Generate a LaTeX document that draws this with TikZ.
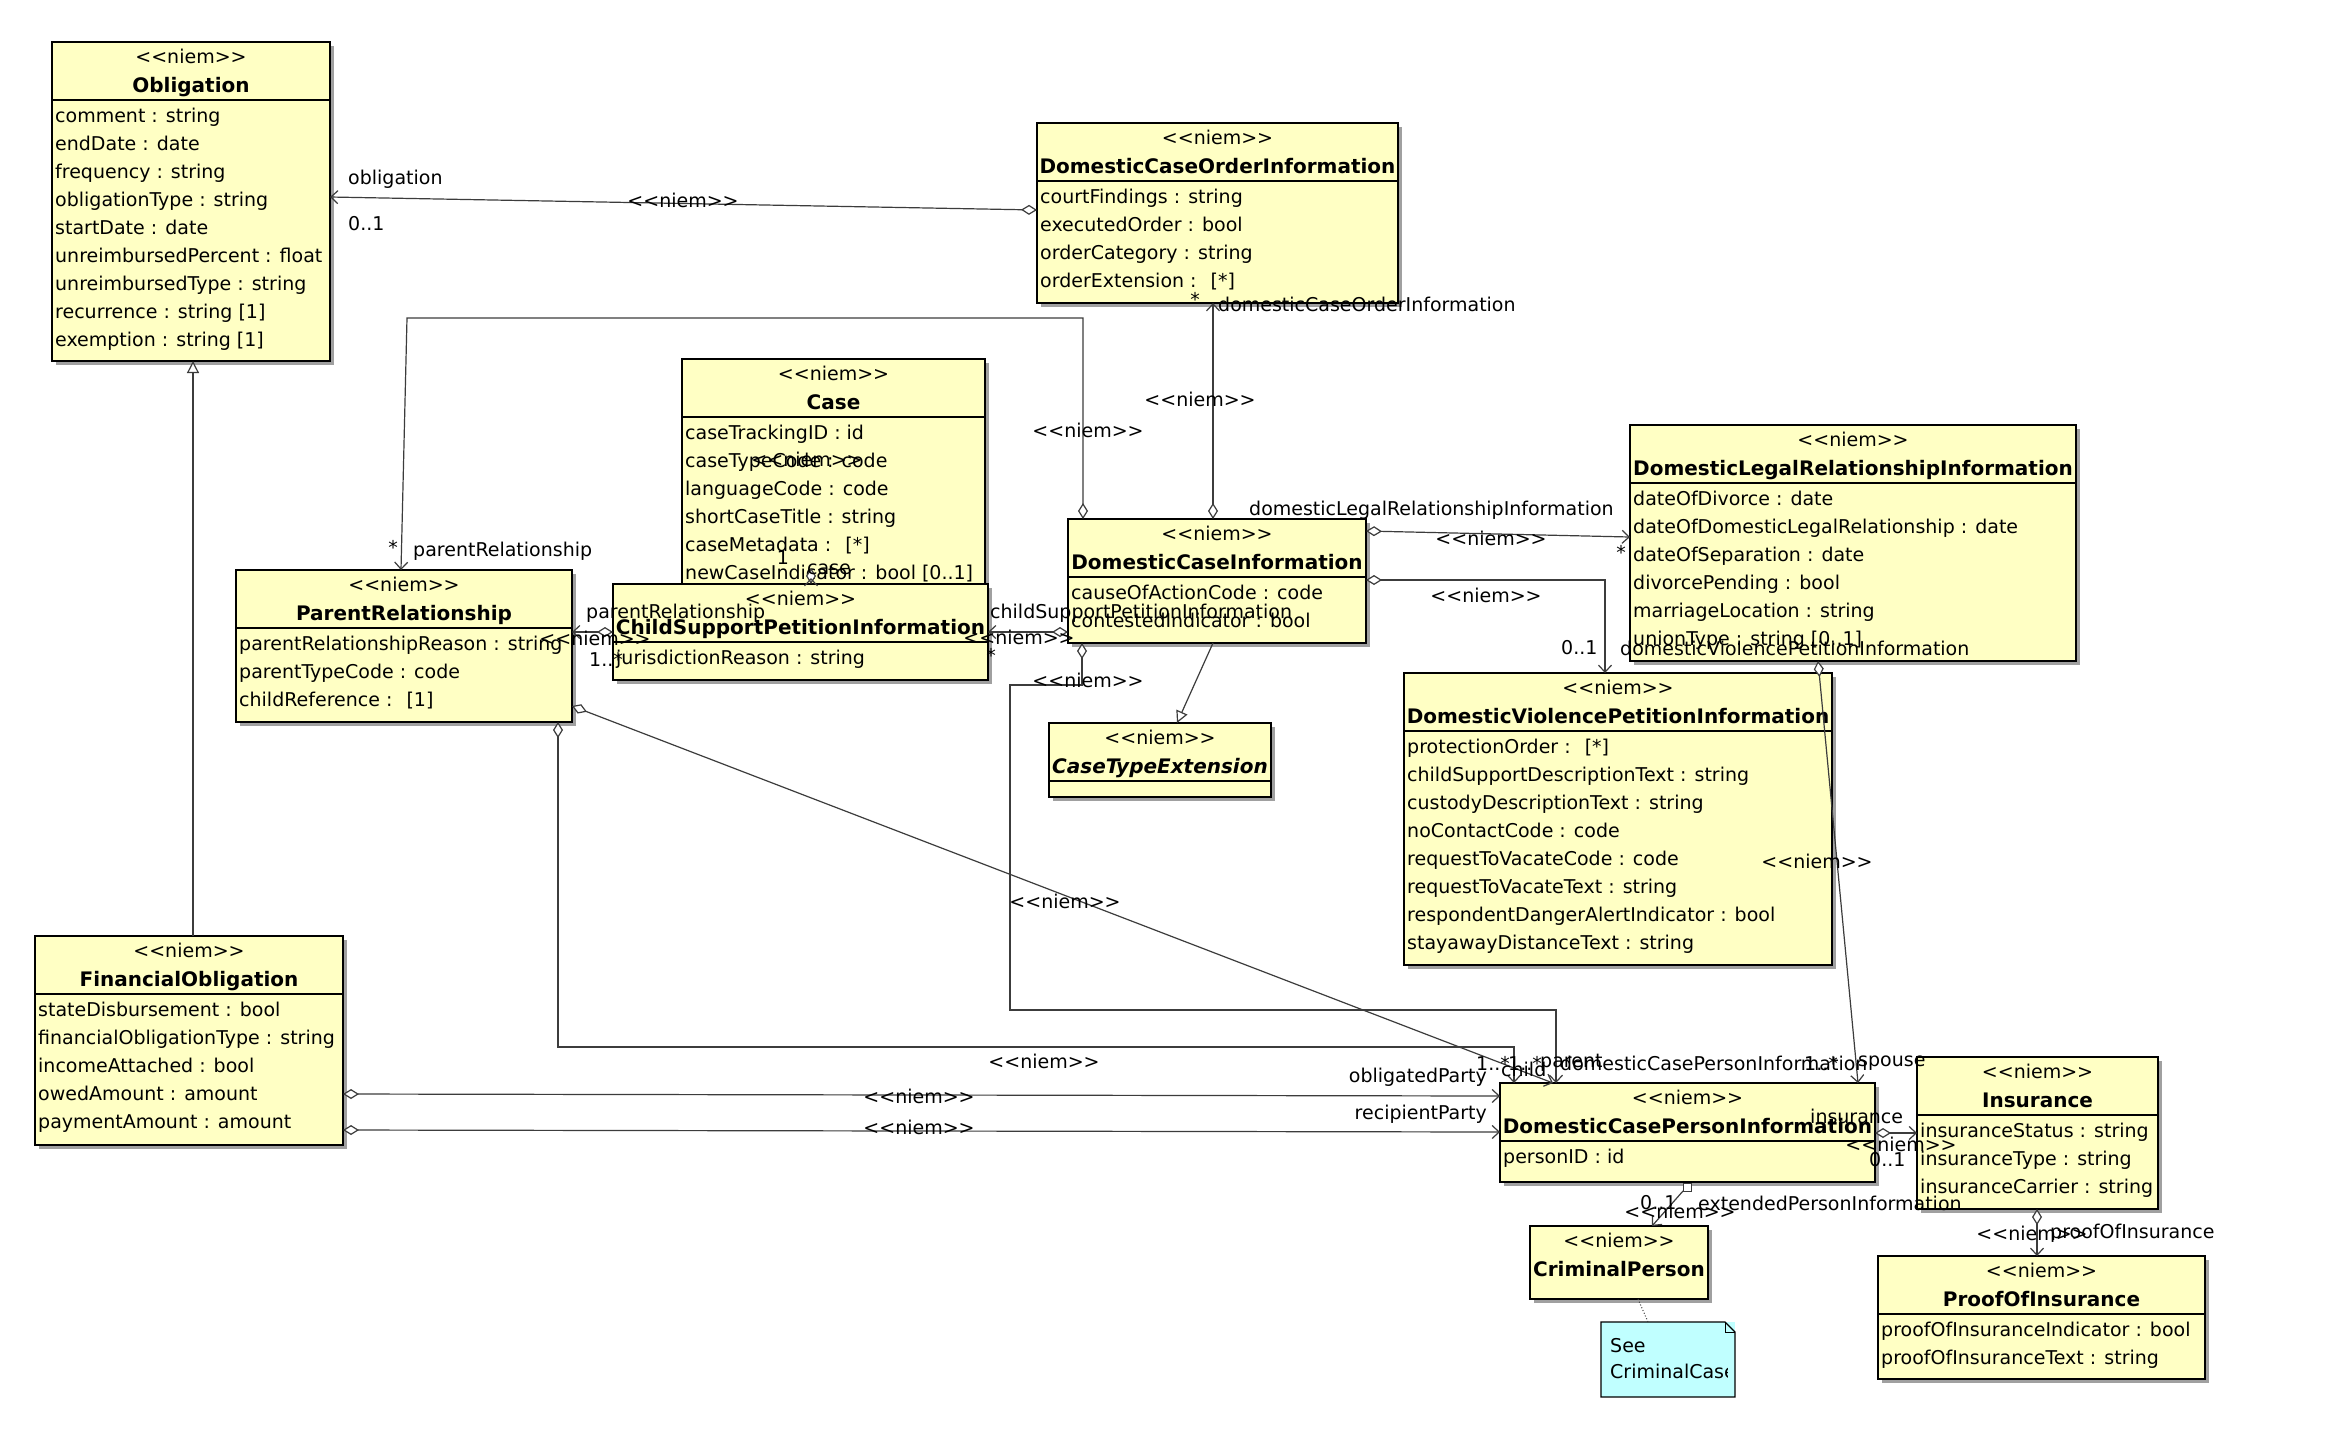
\documentclass[tikz,border=0pt]{standalone}
\usepackage{fontspec}
\newfontfamily\umlfont{DejaVu Sans}
\usetikzlibrary{arrows.meta,calc}
\definecolor{clsfill}{RGB}{255,255,196}
\definecolor{notefill}{RGB}{192,255,255}
\definecolor{shadowc}{RGB}{160,160,160}
\definecolor{linec}{RGB}{60,60,60}
\tikzset{
 clsbox/.style={draw=black,line width=1.4pt,fill=clsfill,inner sep=0pt,outer sep=0pt,anchor=north west},
 stereo/.style={font=\umlfont\fontsize{19}{23}\selectfont,inner sep=0pt,anchor=base},
 clsname/.style={font=\umlfont\bfseries\fontsize{20}{24}\selectfont,inner sep=0pt,anchor=base},
 attr/.style={font=\umlfont\fontsize{19}{23}\selectfont,inner sep=0pt,anchor=base west},
 lbl/.style={font=\umlfont\fontsize{19}{23}\selectfont,inner sep=0pt},
 divline/.style={line width=1.2pt},
 assoc/.style={draw=linec,line width=1.2pt},
 dstart/.style={arrows={Diamond[open,fill=white,length=16pt,width=10pt]-Straight Barb[length=7pt,width=13pt]}},
 barb/.style={arrows={-Straight Barb[length=7pt,width=13pt]}},
 gen/.style={arrows={-Triangle[open,fill=white,length=12pt,width=12pt]}},
}
\newcommand\umlclass[6]{%
  \fill[shadowc] (#2+4,#3+4) rectangle (#4+4,#5+4);
  \node[clsbox,minimum width={#4-#2},minimum height={#5-#3}] (#1) at (#2,#3) {};
  \node[stereo] (#1-st) at ({(#2+#4)/2},#3+21.5) {<<niem>>};
  \node[clsname] (#1-nm) at ({(#2+#4)/2},#3+50.5) {#6};
  \draw[divline] (#2,#3+58) -- (#4,#3+58);
}
\newcommand\umlattrs[4]{%
  \foreach \attrtxt [count=\i from 0] in {#4} {\node[attr] (#1-a\i) at (#2+3,#3+80+28*\i) {\attrtxt};}
}
\begin{document}
\begin{tikzpicture}[x=1pt,y=-1pt]
\fill[white] (0,0) rectangle (2339,1428);
\useasboundingbox (0,0) rectangle (2339,1428);

% ---------- classes ----------
\umlclass{obl}{52}{42}{330}{361}{Obligation}
\umlattrs{obl}{52}{42}{comment : string,endDate : date,frequency : string,obligationType : string,startDate : date,unreimbursedPercent : float,unreimbursedType : string,recurrence : string [1],exemption : string [1]}

\umlclass{dcoi}{1037}{123}{1398}{303}{DomesticCaseOrderInformation}
\umlattrs{dcoi}{1037}{123}{courtFindings : string,executedOrder : bool,orderCategory : string,orderExtension :~ [*]}

\umlclass{case}{682}{359}{985}{595}{Case}
\umlattrs{case}{682}{359}{caseTrackingID : id,caseTypeCode : code,languageCode : code,shortCaseTitle : string,caseMetadata :~ [*],newCaseIndicator : bool [0..1]}

\umlclass{cspi}{613}{584}{988}{680}{ChildSupportPetitionInformation}
\umlattrs{cspi}{613}{584}{jurisdictionReason : string}

\umlclass{pr}{236}{570}{572}{722}{ParentRelationship}
\umlattrs{pr}{236}{570}{parentRelationshipReason : string,parentTypeCode : code,childReference :~ [1]}

\umlclass{dci}{1068}{519}{1366}{643}{DomesticCaseInformation}
\umlattrs{dci}{1068}{519}{causeOfActionCode : code,contestedIndicator : bool}

\umlclass{dlri}{1630}{425}{2076}{661}{DomesticLegalRelationshipInformation}
\umlattrs{dlri}{1630}{425}{dateOfDivorce : date,dateOfDomesticLegalRelationship : date,dateOfSeparation : date,divorcePending : bool,marriageLocation : string,unionType : string [0..1]}

\umlclass{dvpi}{1404}{673}{1832}{965}{DomesticViolencePetitionInformation}
\umlattrs{dvpi}{1404}{673}{protectionOrder :~ [*],childSupportDescriptionText : string,custodyDescriptionText : string,noContactCode : code,requestToVacateCode : code,requestToVacateText : string,respondentDangerAlertIndicator : bool,stayawayDistanceText : string}

\umlclass{cte}{1049}{723}{1271}{797}{\itshape CaseTypeExtension}

\umlclass{fo}{35}{936}{343}{1145}{FinancialObligation}
\umlattrs{fo}{35}{936}{stateDisbursement : bool,financialObligationType : string,incomeAttached : bool,owedAmount : amount,paymentAmount : amount}

\umlclass{dcpi}{1500}{1083}{1875}{1182}{DomesticCasePersonInformation}
\umlattrs{dcpi}{1500}{1083}{personID : id}

\umlclass{ins}{1917}{1057}{2158}{1209}{Insurance}
\umlattrs{ins}{1917}{1057}{insuranceStatus : string,insuranceType : string,insuranceCarrier : string}

\umlclass{poi}{1878}{1256}{2205}{1379}{ProofOfInsurance}
\umlattrs{poi}{1878}{1256}{proofOfInsuranceIndicator : bool,proofOfInsuranceText : string}

% CriminalPerson (no compartment line)
\fill[shadowc] (1534,1230) rectangle (1712,1303);
\node[clsbox,minimum width=178,minimum height=73] (crim) at (1530,1226) {};
\node[stereo] (crim-st) at (1619,1247.5) {<<niem>>};
\node[clsname] (crim-nm) at (1619,1276.5) {CriminalPerson};

% note
\node[fill=notefill,inner sep=0pt,outer sep=0pt,anchor=north west,minimum width=134,minimum height=75] (note) at (1601,1322) {};
\draw[line width=1.2pt] (note.north west) -- ($(note.north east)+(-10,0)$) -- ($(note.north east)+(0,10)$) -- (note.south east) -- (note.south west) -- cycle;
\draw[line width=1pt] ($(note.north east)+(-10,0)$) -- ($(note.north east)+(-10,10)$) -- ($(note.north east)+(0,10)$);
\begin{scope}
\clip (note.north west) rectangle ($(note.south east)+(-8,0)$);
\node[attr] (note-t1) at (1610,1352) {See};
\node[attr] (note-t2) at (1610,1378) {CriminalCase};
\end{scope}

% ---------- connectors ----------
\draw[assoc,dstart] ($(dcoi.north west)+(0,87)$) -- ($(obl.north east)+(0,155)$);
\draw[assoc,dstart] ($(dci.north west)+(15,0)$) -- ++(0,-201) -- ++(-676,0) -- ($(pr.north west)+(165,0)$);
\draw[assoc,dstart] ($(dci.north west)+(145,0)$) -- ($(dcoi.south west)+(176,0)$);
\draw[assoc,dstart] ($(dci.north east)+(0,12)$) -- ($(dlri.north west)+(0,112)$);
\draw[assoc,dstart] ($(dci.north east)+(0,61)$) -| ($(dvpi.north west)+(201,0)$);
\draw[assoc,dstart] ($(dci.north west)+(0,113)$) -- ($(cspi.north east)+(0,48)$);
\draw[assoc,dstart] ($(cspi.north west)+(198,0)$) -- ++(0,-6);
\draw[assoc,dstart] ($(cspi.north west)+(0,48)$) -- ($(pr.north east)+(0,62)$);
\draw[assoc,dstart] ($(pr.north east)+(0,136)$) -- ($(dcpi.north west)+(53,0)$);
\draw[assoc,dstart] ($(pr.south west)+(322,0)$) -- ++(0,325) -| ($(dcpi.north west)+(14,0)$);
\draw[assoc,dstart] ($(dci.south west)+(14,0)$) -- ++(0,42) -- ++(-72,0) -- ++(0,325) -| ($(dcpi.north west)+(56,0)$);
\draw[assoc,dstart] ($(dlri.south west)+(188,0)$) -- ($(dcpi.north west)+(358,0)$);
\draw[assoc,dstart] ($(fo.north east)+(0,158)$) -- ($(dcpi.north west)+(0,13)$);
\draw[assoc,dstart] ($(fo.north east)+(0,194)$) -- ($(dcpi.north west)+(0,49)$);
\draw[assoc,dstart] ($(dcpi.north east)+(0,50)$) -- ($(ins.north west)+(0,76)$);
\node[draw=linec,fill=white,line width=1pt,minimum size=8pt,inner sep=0pt,outer sep=0pt,anchor=north] (sq) at ($(dcpi.south west)+(187,1)$) {};
\draw[assoc,barb] (sq.south west) -- ($(crim.north west)+(122,0)$);
\draw[assoc,dstart] ($(ins.south west)+(120,0)$) -- ($(poi.north west)+(159,0)$);
\draw[assoc,gen] ($(fo.north west)+(158,0)$) -- ($(obl.south west)+(141,0)$);
\draw[assoc,gen] ($(dci.south west)+(145,0)$) -- ($(cte.north west)+(128,0)$);
\draw[linec,line width=1pt,dotted] ($(crim.south west)+(108,0)$) -- ($(note.north west)+(47,0)$);

% ---------- labels ----------
\node[lbl,anchor=west] (l1) at (348,179) {obligation};
\node[lbl,anchor=west] (l2) at (348,224) {0..1};
\node[lbl] (l3) at (683,200) {<<niem>>};
\node[lbl] (l4) at (393,547) {*};
\node[lbl,anchor=west] (l5) at (413,551) {parentRelationship};
\node[lbl] (l6) at (1088,430) {<<niem>>};
\node[lbl] (l7) at (1195,299) {*};
\node[lbl,anchor=west] (l8) at (1218,304) {domesticCaseOrderInformation};
\node[lbl] (l9) at (1200,399) {<<niem>>};
\node[lbl,anchor=west] (l10) at (1249,510) {domesticLegalRelationshipInformation};
\node[lbl] (l11) at (1621,552) {*};
\node[lbl] (l12) at (1491,538) {<<niem>>};
\node[lbl,anchor=west] (l13) at (1561,648) {0..1};
\node[lbl,anchor=west] (l14) at (1620,648) {domesticViolencePetitionInformation};
\node[lbl] (l15) at (1486,595) {<<niem>>};
\node[lbl,anchor=west] (l16) at (990,613) {childSupportPetitionInformation};
\node[lbl] (l17) at (991,655) {*};
\node[lbl] (l18) at (1019,637) {<<niem>>};
\node[lbl] (l19) at (783,558) {1};
\node[lbl] (l20) at (829,569) {case};
\node[lbl] (l21) at (807,459) {<<niem>>};
\node[lbl,anchor=west] (l22) at (586,613) {parentRelationship};
\node[lbl] (l23) at (595,638) {<<niem>>};
\node[lbl,anchor=west] (l24) at (589,659) {1..*};
\node[lbl] (l25) at (1065,901) {<<niem>>};
\node[lbl] (l26) at (1044,1061) {<<niem>>};
\node[lbl] (l27) at (1088,680) {<<niem>>};
\node[lbl] (l28) at (1817,861) {<<niem>>};
\node[lbl,anchor=west] (l29) at (1476,1063) {1..*};
\node[lbl,anchor=west] (l30) at (1501,1069) {child};
\node[lbl,anchor=west] (l31) at (1508,1063) {1..*};
\node[lbl,anchor=west] (l32) at (1540,1063) {parent};
\node[lbl,anchor=west] (l33) at (1560,1063) {domesticCasePersonInformation};
\node[lbl,anchor=west] (l34) at (1804,1063) {1..*};
\node[lbl,anchor=west] (l35) at (1858,1063) {spouse};
\node[lbl,anchor=east] (l36) at (1487,1077) {obligatedParty};
\node[lbl] (l37) at (919,1096) {<<niem>>};
\node[lbl,anchor=east] (l38) at (1487,1114) {recipientParty};
\node[lbl] (l39) at (919,1127) {<<niem>>};
\node[lbl,anchor=west] (l40) at (1810,1116) {insurance};
\node[lbl] (l41) at (1901,1144) {<<niem>>};
\node[lbl,anchor=west] (l42) at (1869,1160) {0..1};
\node[lbl,anchor=west] (l43) at (1640,1203) {0..1};
\node[lbl,anchor=west] (l44) at (1698,1203) {extendedPersonInformation};
\node[lbl] (l45) at (1680,1211) {<<niem>>};
\node[lbl] (l46) at (2032,1233) {<<niem>>};
\node[lbl,anchor=west] (l47) at (2050,1233) {proofOfInsurance};
\end{tikzpicture}
\end{document}
